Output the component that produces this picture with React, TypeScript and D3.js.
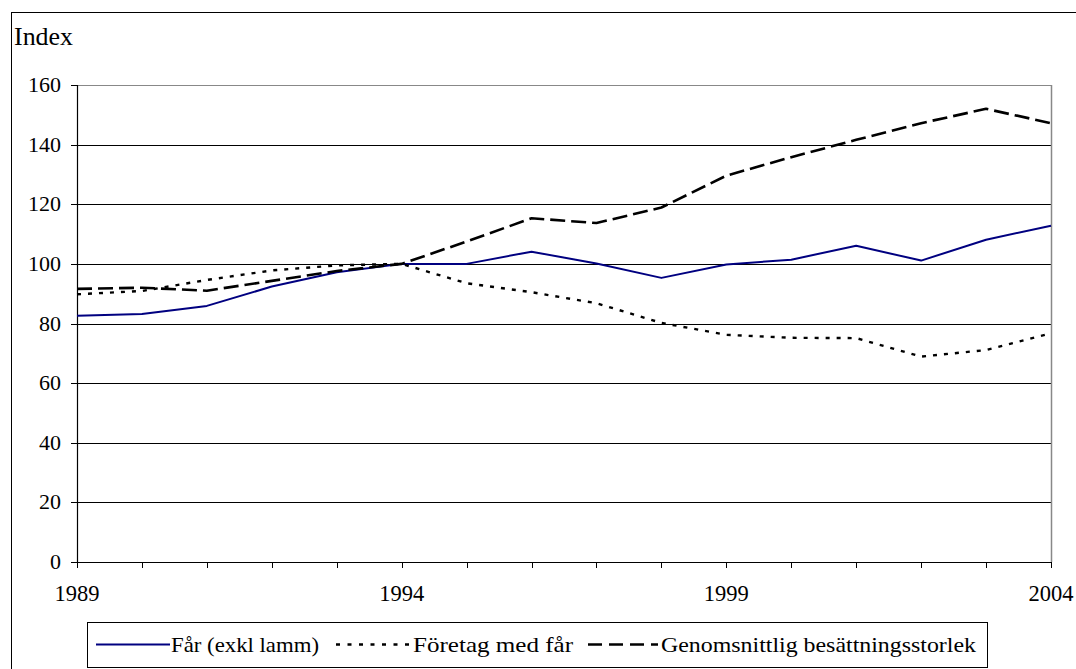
import React from "react";
import * as d3 from "d3";

const years = [1989, 1990, 1991, 1992, 1993, 1994, 1995, 1996, 1997, 1998, 1999, 2000, 2001, 2002, 2003, 2004];
const farValues = [82.6, 83.2, 85.9, 92.4, 97.2, 100, 100, 104.1, 100.1, 95.3, 99.8, 101.4, 106.1, 101.1, 108.1, 112.8];
const foretagValues = [89.8, 90.9, 94.6, 97.8, 99.5, 100, 93.5, 90.5, 86.8, 80.2, 76.2, 75.2, 75.1, 68.9, 71.1, 76.7];
const genomsnittValues = [91.6, 92.0, 91.0, 94.3, 97.6, 100, 107.5, 115.3, 113.7, 118.9, 129.6, 135.8, 141.6, 147.2, 152.0, 147.2];
const yTicks = [0, 20, 40, 60, 80, 100, 120, 140, 160];
const xLabels = [1989, 1994, 1999, 2004];
const legendLabels = ["Får (exkl lamm)", "Företag med får", "Genomsnittlig besättningsstorlek"];

const W = 1076;
const H = 669;
const left = 77;
const right = 1051;
const top = 85;
const bottom = 562;
const FAM = '"Liberation Serif", "Times New Roman", Tinos';

function T(props: any) {
  const { children, ...rest } = props;
  return (
    <text fill="#000" {...rest} style={{ fontFamily: FAM }}>
      {children}
    </text>
  );
}

export default function App() {
  const x = d3.scaleLinear().domain([1989, 2004]).range([left, right]);
  const y = d3.scaleLinear().domain([0, 160]).range([bottom, top]);
  const line = d3
    .line<number>()
    .x((_, i) => x(years[i]))
    .y((d) => y(d));

  const series = [
    { values: farValues, stroke: "#000080", width: 2, dash: undefined as string | undefined, legendDash: undefined as string | undefined },
    { values: foretagValues, stroke: "#000", width: 2.4, dash: "4 7", legendDash: "4 7.5" },
    { values: genomsnittValues, stroke: "#000", width: 2.6, dash: "15 6", legendDash: "14 7" },
  ];

  const legendItems = [
    { x1: 96, x2: 170, tx: 171, tw: 148 },
    { x1: 336, x2: 410, tx: 413, tw: 160 },
    { x1: 588, x2: 658, tx: 661, tw: 315 },
  ];

  return (
    <svg width={W} height={H} style={{ position: "absolute", left: 0, top: 0 }}>
      <rect x={0} y={0} width={W} height={H} fill="#fff" />
      <rect x={11.5} y={12.5} width={1200} height={800} fill="none" stroke="#000" strokeWidth={1} />
      <T x={14} y={45} fontSize={25.5} textLength={59} lengthAdjust="spacingAndGlyphs">Index</T>

      {yTicks.filter((t) => t > 0 && t < 160).map((t) => (
        <line key={"g" + t} x1={left} x2={right} y1={Math.round(y(t)) + 0.5} y2={Math.round(y(t)) + 0.5} stroke="#000" strokeWidth={1} />
      ))}
      <line x1={left} x2={right} y1={top + 0.5} y2={top + 0.5} stroke="#888" strokeWidth={1.2} />
      <line x1={right + 0.5} x2={right + 0.5} y1={top} y2={bottom} stroke="#888" strokeWidth={1.5} />
      <line x1={left + 0.5} x2={left + 0.5} y1={top} y2={bottom + 0.5} stroke="#000" strokeWidth={1.2} />
      <line x1={left} x2={right + 1} y1={bottom + 0.5} y2={bottom + 0.5} stroke="#000" strokeWidth={1.2} />

      {yTicks.map((t) => (
        <g key={"y" + t}>
          <line x1={71} x2={left} y1={Math.round(y(t)) + 0.5} y2={Math.round(y(t)) + 0.5} stroke="#000" strokeWidth={1} />
          <T x={61} y={y(t) + 7} fontSize={22} textAnchor="end">{t}</T>
        </g>
      ))}
      {years.map((yr) => (
        <line key={"x" + yr} x1={Math.round(x(yr)) + 0.5} x2={Math.round(x(yr)) + 0.5} y1={bottom} y2={bottom + 6} stroke="#000" strokeWidth={1} />
      ))}
      {xLabels.map((yr) => (
        <T key={"xl" + yr} x={x(yr)} y={601} fontSize={22.5} textAnchor="middle">{yr}</T>
      ))}

      {series.map((s, i) => (
        <path key={"s" + i} d={line(s.values) || ""} fill="none" stroke={s.stroke} strokeWidth={s.width} strokeDasharray={s.dash} strokeLinejoin="round" />
      ))}

      <rect x={87.5} y={622.5} width={900} height={45} fill="#fff" stroke="#000" strokeWidth={1} />
      {legendItems.map((it, i) => (
        <g key={"l" + i}>
          <line x1={it.x1} x2={it.x2} y1={644.5} y2={644.5} stroke={series[i].stroke} strokeWidth={series[i].width} strokeDasharray={series[i].legendDash} />
          <T x={it.tx} y={652} fontSize={22} textLength={it.tw} lengthAdjust="spacingAndGlyphs">{legendLabels[i]}</T>
        </g>
      ))}
    </svg>
  );
}
